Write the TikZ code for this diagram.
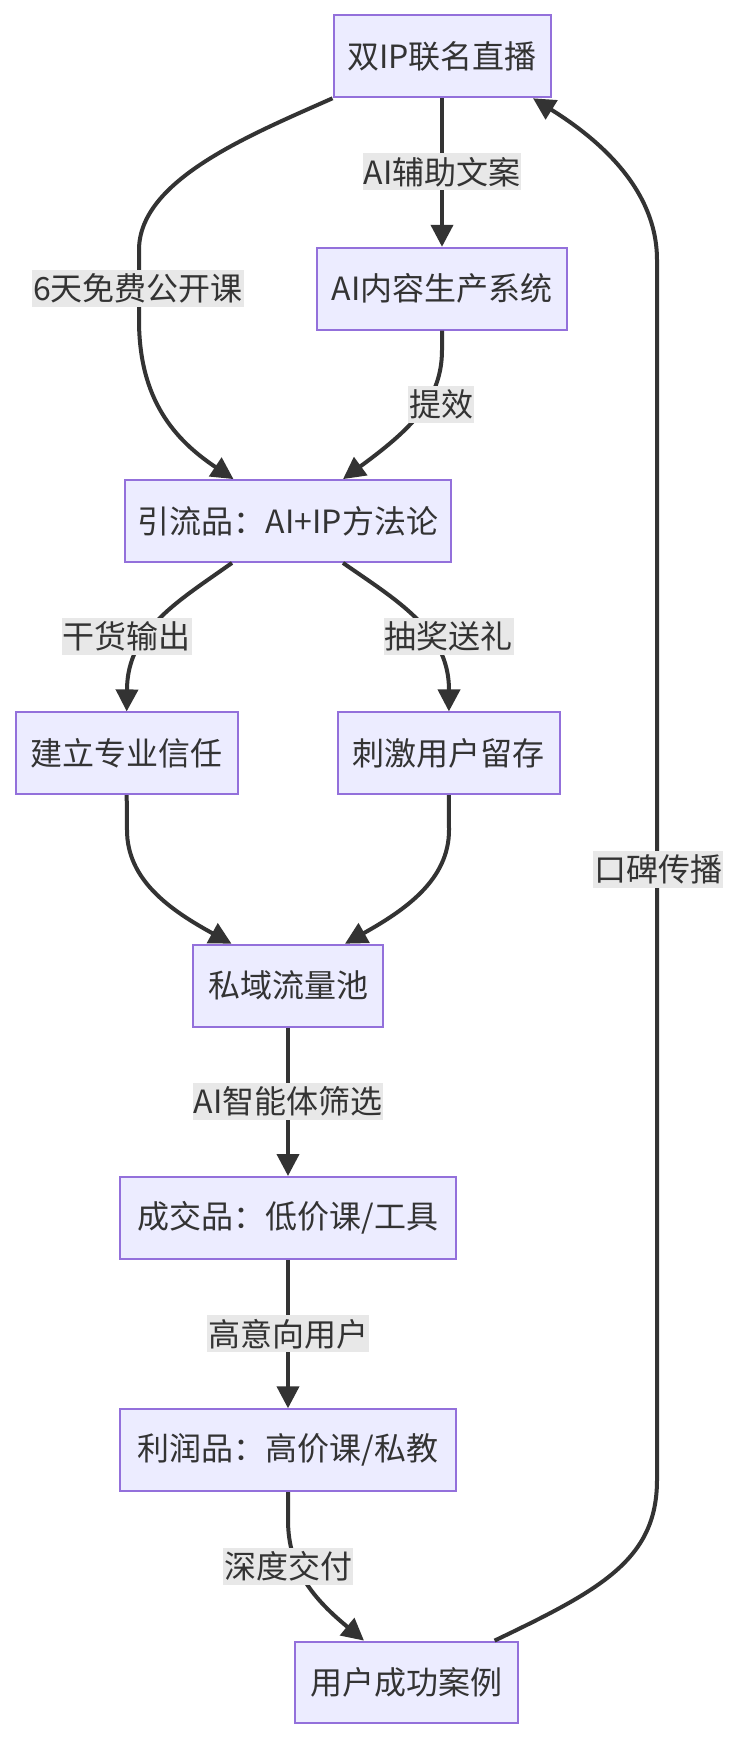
\documentclass[tikz,border=0pt]{standalone}
\usepackage{fontspec}
\setmainfont{Noto Sans CJK SC}
\usetikzlibrary{arrows.meta,calc}
\definecolor{nodefill}{HTML}{ECECFF}
\definecolor{nodeline}{HTML}{9370DB}
\definecolor{edgecol}{HTML}{333333}
\definecolor{lblbg}{HTML}{E8E8E8}
\begin{document}
\begin{tikzpicture}[x=1pt,y=-1pt,
  box/.style={draw=nodeline, fill=nodefill, line width=2pt, minimum height=81.8pt,
    inner sep=0pt, text=edgecol, font=\fontsize{32}{38}\selectfont},
  lbl/.style={fill=lblbg, minimum height=37pt, inner xsep=1pt, inner ysep=0pt,
    text=edgecol, font=\fontsize{32}{38}\selectfont},
  flow/.style={draw=edgecol, line width=4pt, -{Triangle[length=22pt,width=22pt]}},
  ]
\useasboundingbox[fill=white] (0,0) rectangle (740,1742);

\node[box, minimum width=217pt]   (A) at (442,56.4)   {双IP联名直播};
\node[box, minimum width=250.5pt] (B) at (442,288.7)  {AI内容生产系统};
\node[box, minimum width=326pt]   (C) at (288,521)    {引流品：AI+IP方法论};
\node[box, minimum width=222pt]   (D) at (126.7,753.3){建立专业信任};
\node[box, minimum width=222pt]   (E) at (448.9,753.3){刺激用户留存};
\node[box, minimum width=190.5pt] (F) at (288,985.6)  {私域流量池};
\node[box, minimum width=335.4pt] (G) at (288,1217.9) {成交品：低价课/工具};
\node[box, minimum width=335.4pt] (H) at (288,1450.2) {利润品：高价课/私教};
\node[box, minimum width=222.7pt] (I) at (406.6,1682.5){用户成功案例};

\draw[flow] (A.south west) .. controls (250,135) and (139,180) .. (139,250)
  -- (139,320) .. controls (139,400) and (175,440) .. ($(C.north)+(-54.5,0)$);
\draw[flow] (A.south) -- (B.north);
\draw[flow] (B.south) -- (442,350) .. controls (442,400) and (410,430) .. ($(C.north)+(55,0)$);
\draw[flow] ($(C.south)+(-56,0)$) .. controls (180,600) and (127,630) .. (127,690) -- (D.north);
\draw[flow] ($(C.south)+(55,0)$) .. controls (396,600) and (449,630) .. (449,690) -- (E.north);
\draw[flow] (D.south) -- (127,830) .. controls (127,880) and (170,910) .. ($(F.north)+(-56.5,0)$);
\draw[flow] (E.south) -- (449,830) .. controls (449,880) and (405,910) .. ($(F.north)+(57,0)$);
\draw[flow] (F.south) -- (G.north);
\draw[flow] (G.south) -- (H.north);
\draw[flow] (H.south) -- (288,1520) .. controls (288,1570) and (315,1600) .. ($(I.north)+(-42.6,0)$);
\draw[flow] ($(I.north)+(88,0)$) .. controls (600,1590) and (657,1560) .. (657,1480)
  -- (657,260) .. controls (657,190) and (600,140) .. ($(A.south)+(91,0)$);

\node[lbl] (l1) at (442,171.9)   {AI辅助文案};
\node[lbl] (l2) at (138,288.3)   {6天免费公开课};
\node[lbl] (l3) at (441.3,404.4) {提效};
\node[lbl] (l4) at (126.7,636.7) {干货输出};
\node[lbl] (l5) at (448.6,636.7) {抽奖送礼};
\node[lbl] (l6) at (658,869.4)   {口碑传播};
\node[lbl] (l7) at (288,1101.5)  {AI智能体筛选};
\node[lbl] (l8) at (288,1333.9)  {高意向用户};
\node[lbl] (l9) at (288,1566.6)  {深度交付};
\end{tikzpicture}
\end{document}
